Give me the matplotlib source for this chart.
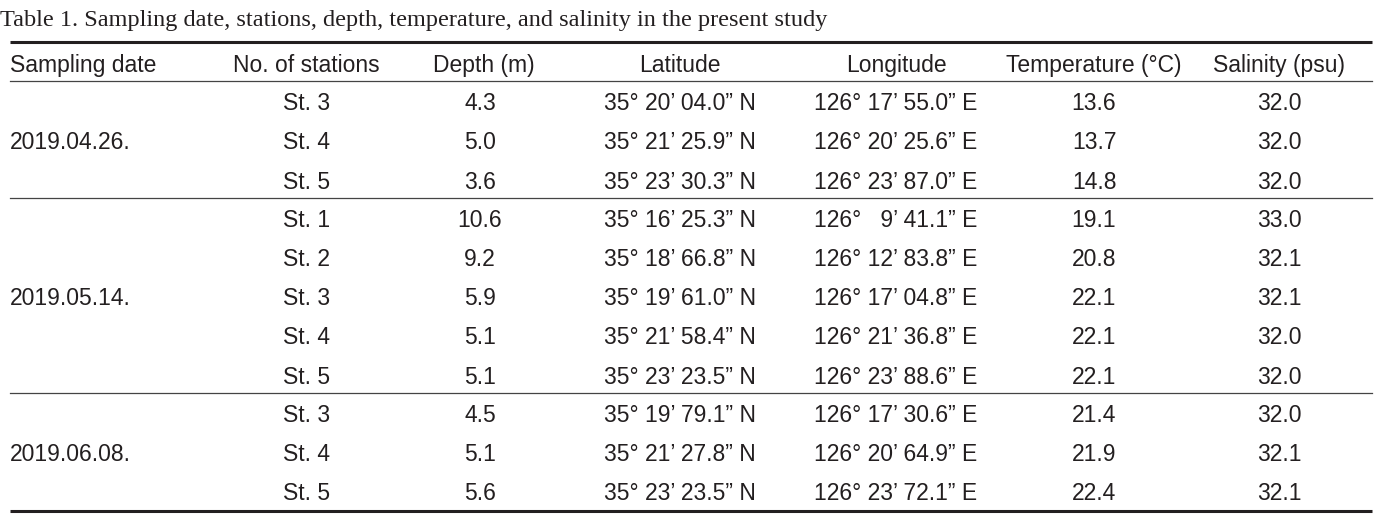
import matplotlib
matplotlib.use("Agg")
import matplotlib.pyplot as plt

title = "Table 1. Sampling date, stations, depth, temperature, and salinity in the present study"
headers = ["Sampling date", "No. of stations", "Depth (m)", "Latitude", "Longitude",
           "Temperature (°C)", "Salinity (psu)"]
dates = ["2019.04.26.", "2019.05.14.", "2019.06.08."]
stations = [["St. 3", "St. 4", "St. 5"],
            ["St. 1", "St. 2", "St. 3", "St. 4", "St. 5"],
            ["St. 3", "St. 4", "St. 5"]]
depth = [[4.3, 5.0, 3.6], [10.6, 9.2, 5.9, 5.1, 5.1], [4.5, 5.1, 5.6]]
latitude = [["35° 20’ 04.0” N", "35° 21’ 25.9” N", "35° 23’ 30.3” N"],
            ["35° 16’ 25.3” N", "35° 18’ 66.8” N", "35° 19’ 61.0” N", "35° 21’ 58.4” N",
             "35° 23’ 23.5” N"],
            ["35° 19’ 79.1” N", "35° 21’ 27.8” N", "35° 23’ 23.5” N"]]
longitude = [["126° 17’ 55.0” E", "126° 20’ 25.6” E", "126° 23’ 87.0” E"],
             ["126°   9’ 41.1” E", "126° 12’ 83.8” E", "126° 17’ 04.8” E", "126° 21’ 36.8” E",
              "126° 23’ 88.6” E"],
             ["126° 17’ 30.6” E", "126° 20’ 64.9” E", "126° 23’ 72.1” E"]]
temperature = [[13.6, 13.7, 14.8], [19.1, 20.8, 22.1, 22.1, 22.1], [21.4, 21.9, 22.4]]
salinity = [[32.0, 32.0, 32.0], [33.0, 32.1, 32.1, 32.0, 32.0], [32.0, 32.1, 32.1]]

W, H = 1384, 516
fig = plt.figure(figsize=(W / 100, H / 100), dpi=100)
ax = fig.add_axes([0, 0, 1, 1])
ax.set_xlim(0, W)
ax.set_ylim(H, 0)
ax.axis("off")

SANS = "Liberation Sans"
FS = 16.5
TXT = "#231f20"
x0, x1 = 10, 1372


def cell(x, y, s, ha="center"):
    ax.text(x, y, s, family=SANS, fontsize=FS, va="center_baseline", ha=ha, color=TXT)


ax.text(0, 18, title, family="Liberation Serif", fontsize=17.5, va="center_baseline",
        ha="left", color=TXT)
ax.plot([x0, x1], [42, 42], color="#231f20", lw=2.2, solid_capstyle="butt")

# header
col_x = [10, 306, 484, 680, 896, 1094, 1279]
for i, h in enumerate(headers):
    cell(col_x[i], 63, h, ha="left" if i == 0 else "center")
ax.plot([x0, x1], [81, 81], color="#444444", lw=0.9)

row_h = 39.3
y = 81
for g, d in enumerate(dates):
    n = len(stations[g])
    ys = [y + 20 + k * row_h for k in range(n)]
    cell(10, (ys[0] + ys[-1]) / 2, d, ha="left")
    for k in range(n):
        yy = ys[k]
        cell(283, yy, stations[g][k], ha="left")
        cell(480, yy, f"{depth[g][k]:.1f}")
        cell(680, yy, latitude[g][k])
        cell(896, yy, longitude[g][k])
        cell(1094, yy, f"{temperature[g][k]:.1f}")
        cell(1279, yy, f"{salinity[g][k]:.1f}")
    y = ys[-1] + 18
    if g < len(dates) - 1:
        ax.plot([x0, x1], [y, y], color="#444444", lw=0.9)

ax.plot([x0, x1], [511, 511], color="#231f20", lw=2.2, solid_capstyle="butt")

fig.savefig("out.png", dpi=100)
